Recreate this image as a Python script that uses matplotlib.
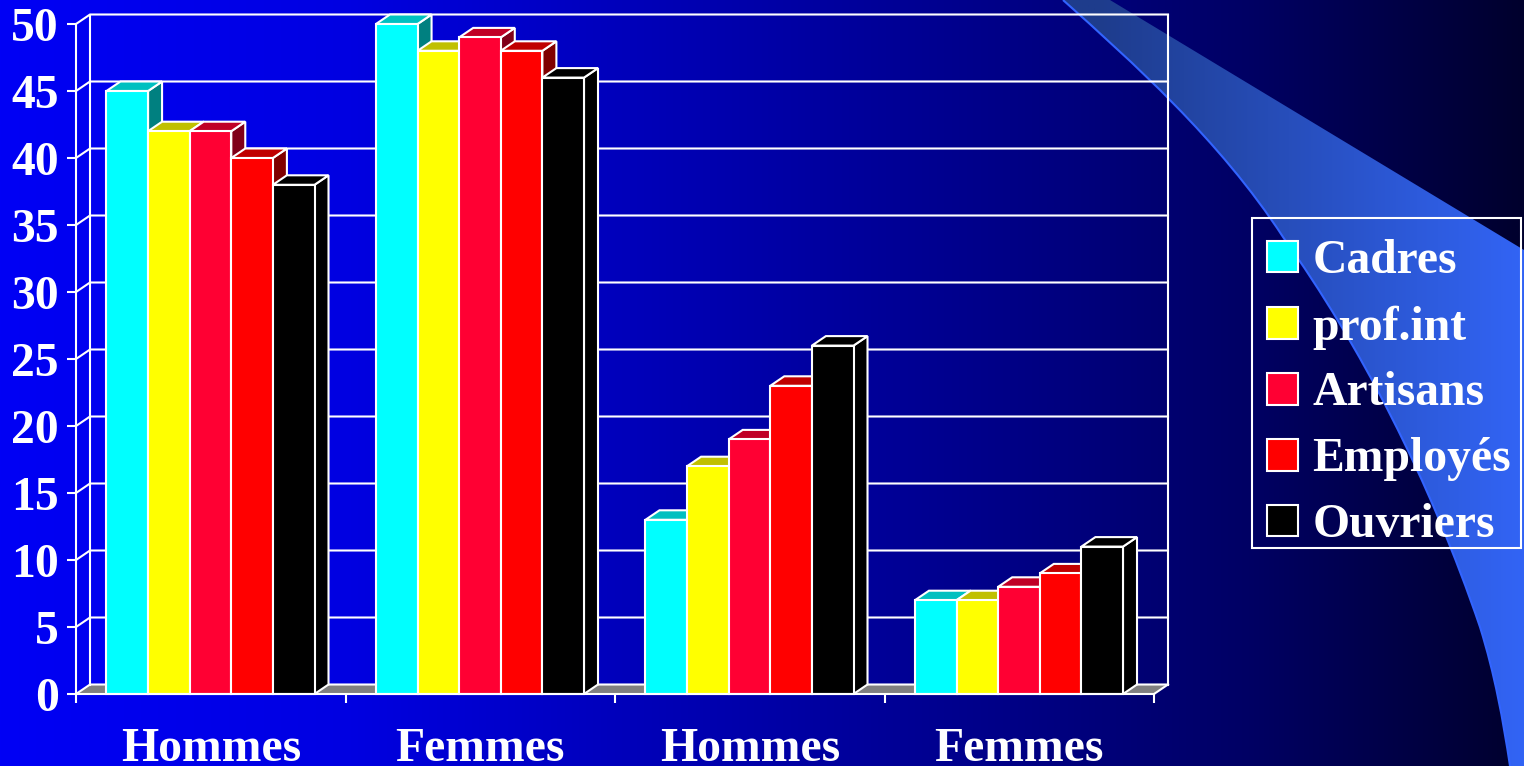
import numpy as np
import matplotlib
matplotlib.use('Agg')
import matplotlib.pyplot as plt
from matplotlib.patches import Patch, PathPatch, Polygon, Rectangle
from matplotlib.path import Path

# chart values
categories = ['Hommes', 'Femmes', 'Hommes', 'Femmes']
series_names = ['Cadres', 'prof.int', 'Artisans', 'Employés', 'Ouvriers']
cadres = [45, 50, 13, 7]
prof_int = [42, 48, 17, 7]
artisans = [42, 49, 19, 8]
employes = [40, 48, 23, 9]
ouvriers = [38, 46, 26, 11]
series = [cadres, prof_int, artisans, employes, ouvriers]

# front, top, side colours
front_colors = ['#00ffff', '#ffff00', '#ff0033', '#ff0000', '#000000']
top_colors = ['#00c0c0', '#c0c000', '#c00026', '#c00000', '#000000']
side_colors = ['#008080', '#808000', '#800019', '#800000', '#000000']

W, H = 1524, 766
FS = 34.3
plt.rcParams['font.family'] = ['Liberation Serif']
plt.rcParams['font.weight'] = 'bold'

fig = plt.figure(figsize=(W / 100, H / 100), dpi=100)

# background in pixel coordinates
bg = fig.add_axes([0, 0, 1, 1], zorder=0)
bg.axis('off')

xs = np.linspace(0, W, 512)
grad = np.zeros((2, 512, 3))
grad[:, :, 2] = np.interp(xs, [0, 350, 600, 1040, 1250, 1524], [245, 225, 190, 130, 100, 45]) / 255
bg.imshow(grad, extent=[0, W, H, 0], aspect='auto', zorder=0)

# the swoosh top right
verts = [(1063, 0), (1130, 60), (1220, 140), (1283, 237),
         (1360, 345), (1430, 480), (1480, 627),
         (1495, 675), (1503, 720), (1510, 766),
         (1524, 766), (1524, 250), (1110, 0), (1063, 0)]
codes = [Path.MOVETO] + [Path.CURVE4] * 9 + [Path.LINETO] * 3 + [Path.CLOSEPOLY]
swoosh = PathPatch(Path(verts, codes), fc='none', ec='none', transform=bg.transData)
bg.add_patch(swoosh)
t = np.clip((xs - 1100) / 424, 0, 1)
sw = np.zeros((2, 512, 3))
sw[:, :, 0] = (30 + 20 * t) / 255
sw[:, :, 1] = (60 + 40 * t) / 255
sw[:, :, 2] = (140 + 105 * t) / 255
im = bg.imshow(sw, extent=[0, W, H, 0], aspect='auto', zorder=1)
im.set_clip_path(swoosh)
edge = Path(verts[:10], codes[:10])
bg.add_patch(PathPatch(edge, fc='none', ec='#3264ff', lw=1.5, zorder=2))
# legend box
bg.add_patch(Rectangle((1252, 218), 269, 330, fc='none', ec='white', lw=1.5, zorder=3))
bg.set_xlim(0, W)
bg.set_ylim(H, 0)

# main axes
ax = fig.add_axes([76 / W, (H - 694) / H, 1078 / W, 670 / H], zorder=1)
ax.patch.set_alpha(0)
ax.set_xlim(0, 4)
ax.set_ylim(0, 50)
dx = 14 / (1078 / 4)
dy = 9.5 / (670 / 50)
bar_w = 0.1544
start = 0.113

# back walls and floor
ax.add_patch(Polygon([(0, 0), (dx, dy), (4 + dx, dy), (4, 0)], fc='#808080', ec='none', zorder=1, clip_on=False))
for v in range(0, 55, 5):
    ax.plot([0, dx, 4 + dx], [v, v + dy, v + dy], color='white', lw=1.5, zorder=2, clip_on=False)
ax.plot([dx, dx], [dy, 50 + dy], color='white', lw=1.5, zorder=2, clip_on=False)
ax.plot([4 + dx, 4 + dx], [dy, 50 + dy], color='white', lw=1.5, zorder=2, clip_on=False)
ax.plot([4, 4 + dx], [0, dy], color='white', lw=1.5, zorder=2, clip_on=False)

# bars, left to right so that each one hides the side of the one before
z = 3
for g in range(len(categories)):
    for s, vals in enumerate(series):
        x0 = g + start + s * bar_w
        v = vals[g]
        ax.add_patch(Polygon([(x0 + bar_w, 0), (x0 + bar_w + dx, dy), (x0 + bar_w + dx, v + dy), (x0 + bar_w, v)],
                             fc=side_colors[s], ec='white', lw=1.5, zorder=z, clip_on=False))
        ax.add_patch(Polygon([(x0, v), (x0 + dx, v + dy), (x0 + bar_w + dx, v + dy), (x0 + bar_w, v)],
                             fc=top_colors[s], ec='white', lw=1.5, zorder=z, clip_on=False))
        ax.bar(x0, v, width=bar_w, align='edge', color=front_colors[s], edgecolor='white', lw=1.5, zorder=z + 1, clip_on=False)
        z += 2

for name in ['top', 'right']:
    ax.spines[name].set_visible(False)
for name in ['left', 'bottom']:
    ax.spines[name].set_color('white')
    ax.spines[name].set_linewidth(1.5)
    ax.spines[name].set_zorder(50)

ax.set_yticks(range(0, 55, 5))
ax.set_xticks(range(5))
ax.set_xticklabels([])
ax.set_xticks([i + 0.5 for i in range(4)], minor=True)
ax.set_xticklabels(categories, minor=True)
ax.tick_params(axis='x', which='minor', length=0, pad=24, labelsize=FS, labelcolor='white')
ax.tick_params(axis='x', which='major', length=6.5, width=1.5, color='white')
ax.tick_params(axis='y', length=6.5, width=1.5, color='white', labelsize=FS, labelcolor='white', pad=6)

# legend, the box around it is drawn above
handles = [Patch(fc=c, ec='white', lw=1.5) for c in front_colors]
leg = ax.legend(handles, series_names, loc='upper left',
                bbox_to_anchor=(1252 / W, 1 - 224 / H), bbox_transform=fig.transFigure,
                borderaxespad=0, fontsize=FS, frameon=False, labelcolor='white',
                handlelength=0.65, handleheight=0.65,
                handletextpad=0.3, labelspacing=0.46, borderpad=0.32)
leg.set_zorder(100)

fig.savefig('out.png', dpi=100)
